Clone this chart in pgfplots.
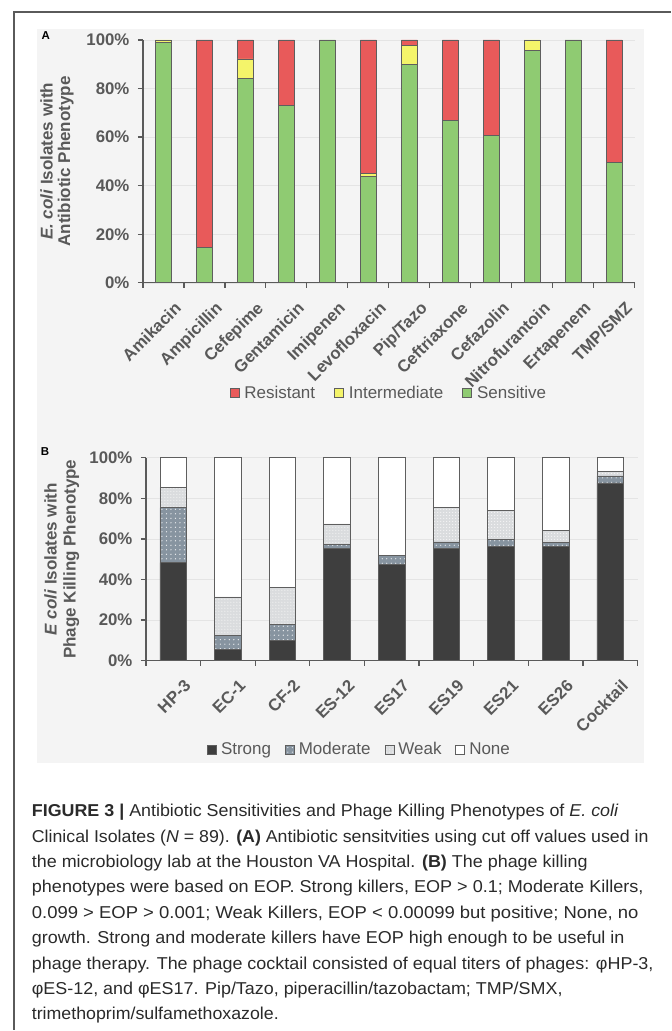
\documentclass[border=0pt]{standalone}
\usepackage{fontspec}
\setmainfont{Liberation Sans}
\usepackage{graphicx}
\usepackage{pgfplots}
\usepackage{pgfplotstable}
\pgfplotsset{compat=1.18}
\usetikzlibrary{patterns.meta}

\definecolor{labgrey}{HTML}{595959}
\definecolor{axisgrey}{HTML}{5A5A5A}
\definecolor{edgegrey}{HTML}{5E5E5E}
\definecolor{gridgrey}{HTML}{E4E4E4}
\definecolor{panelbg}{HTML}{F4F4F4}
\definecolor{sgreen}{HTML}{8FCB72}
\definecolor{iyellow}{HTML}{F4F46A}
\definecolor{rred}{HTML}{E85A5A}
\definecolor{strongc}{HTML}{3E3E3E}
\definecolor{modc}{HTML}{8794A0}
\definecolor{weakc}{HTML}{DADCDE}
\definecolor{captc}{HTML}{2A2A2A}

\newsavebox\capbox
\newcommand\fitline[2]{%
  \sbox\capbox{#2}%
  \pgfmathsetmacro\fitratio{#1/\the\wd\capbox}%
  \scalebox{\fitratio}[1]{\usebox\capbox}}

\pgfplotstableread{
x S I R
0 98.9 1.1 0
1 14.6 0 85.4
2 84.3 7.9 7.8
3 73.0 0 27.0
4 100 0 0
5 43.8 1.1 55.1
6 89.9 7.9 2.2
7 66.9 0 33.1
8 60.7 0 39.3
9 95.5 4.5 0
10 100 0 0
11 49.4 0 50.6
}\tabA

\pgfplotstableread{
x Strong Moderate Weak None
0 48.3 27.0 10.1 14.6
1 5.6 6.7 19.1 68.6
2 10.1 7.9 18.0 64.0
3 55.1 2.2 10.1 32.6
4 47.2 4.5 0 48.3
5 55.1 3.4 16.9 24.6
6 56.2 3.4 14.6 25.8
7 56.2 2.2 5.6 36.0
8 87.6 3.4 2.2 6.8
}\tabB

\pgfplotsset{
  panel/.style={
    scale only axis, clip=false,
    axis x line=bottom, axis y line=left,
    axis line style={-, draw=axisgrey, line width=1.3bp},
    ymin=0, ymax=100, ytick={0,20,...,100},
    yticklabels={0\%,20\%,40\%,60\%,80\%,100\%},
    ymajorgrids, grid style={draw=gridgrey, line width=0.6bp},
    tick align=outside, major tick length=5bp, minor tick length=5bp,
    major tick style={draw=axisgrey, line width=1.3bp},
    minor tick style={draw=axisgrey, line width=1.3bp},
    major x tick style={draw=none},
    ticklabel style={text=labgrey, font=\bfseries\fontsize{16.8bp}{18bp}\selectfont},
    yticklabel style={xshift=-5bp},
    xticklabel style={rotate=45, anchor=north east, yshift=-13bp, xshift=1.5bp},
    legend style={draw=none, fill=none, font=\fontsize{17bp}{19bp}\selectfont,
      text=labgrey, legend columns=-1},
  }
}

\begin{document}
\begin{tikzpicture}[x=1bp,y=1bp]
\path (0,0) rectangle (671,1031);
\fill[panelbg] (37,268) rectangle (644,1002);
\draw[draw=axisgrey, line width=1.2bp] (671,1019) -- (14,1019) -- (14,0);

\node[font=\bfseries\fontsize{11.5bp}{12bp}\selectfont] at (45.8,995.8) {A};
\node[font=\bfseries\fontsize{11.5bp}{12bp}\selectfont] at (45,579.5) {B};

% Panel A
\begin{axis}[ybar stacked, panel,
  legend image code/.code={\draw[#1, draw=edgegrey, line width=0.8bp] (0bp,-4.5bp) rectangle (9bp,4.5bp);},
  at={(143bp,748bp)}, anchor=south west,
  width=492bp, height=243bp,
  xmin=-0.5, xmax=11.5, bar width=0.39,
  xtick={0,...,11},
  xticklabels={Amikacin,Ampicillin,Cefepime,Gentamicin,Imipenen,Levofloxacin,Pip/Tazo,Ceftriaxone,Cefazolin,Nitrofurantoin,Ertapenem,TMP/SMZ},
  minor xtick={-0.5,0.5,...,11.5},
  ylabel={\textit{E. coli} Isolates with\\Antibiotic Phenotype},
  ylabel style={at={(axis description cs:-0.175,0.5)}, anchor=center, align=center,
    text=labgrey, font=\bfseries\fontsize{17bp}{17.5bp}\selectfont},
  reverse legend,
  legend style={at={(0.5,-0.453)}, anchor=center,
      /tikz/every even column/.append style={column sep=17bp},
      /tikz/every odd column/.append style={column sep=3bp}},
]
\addplot[fill=sgreen, draw=edgegrey, line width=0.8bp] table[x=x,y=S]{\tabA};
\addplot[fill=iyellow, draw=edgegrey, line width=0.8bp] table[x=x,y=I]{\tabA};
\addplot[fill=rred, draw=edgegrey, line width=0.8bp] table[x=x,y=R]{\tabA};
\legend{Sensitive,Intermediate,Resistant}
\end{axis}

% Panel B
\begin{axis}[ybar stacked, panel,
  legend image code/.code={\draw[#1, draw=edgegrey, line width=0.8bp] (0bp,-4.5bp) rectangle (9bp,4.5bp);},
  at={(146bp,370bp)}, anchor=south west,
  width=492bp, height=203bp,
  xmin=-0.5, xmax=8.5, bar width=0.488,
  xtick={0,...,8},
  xticklabels={HP-3,EC-1,CF-2,ES-12,ES17,ES19,ES21,ES26,Cocktail},
  minor xtick={-0.5,0.5,...,8.5},
  ylabel={\textit{E coli} Isolates with\\Phage Killing Phenotype},
  ylabel style={at={(axis description cs:-0.171,0.5)}, anchor=center, align=center,
    text=labgrey, font=\bfseries\fontsize{17bp}{19bp}\selectfont},
  legend style={at={(0.4345,-0.438)}, anchor=center,
      /tikz/every even column/.append style={column sep=12bp},
      /tikz/every odd column/.append style={column sep=2bp}},
]
\addplot[fill=strongc, draw=edgegrey, line width=0.7bp] table[x=x,y=Strong]{\tabB};
\addplot[fill=modc, draw=edgegrey, line width=0.7bp,
  postaction={pattern={Dots[distance=4.5bp,radius=0.65bp]}, pattern color=white!85!modc}] table[x=x,y=Moderate]{\tabB};
\addplot[fill=weakc, draw=edgegrey, line width=0.7bp,
  postaction={pattern={Dots[distance=3bp,radius=0.5bp]}, pattern color=white}] table[x=x,y=Weak]{\tabB};
\addplot[fill=white, draw=edgegrey, line width=0.7bp] table[x=x,y=None]{\tabB};
\legend{Strong,Moderate,Weak,None}
\end{axis}

% Caption
\begin{scope}[every node/.style={anchor=base west, inner sep=0pt, text=captc,
   font=\fontsize{17.2bp}{20bp}\selectfont}]
\node at (31.7,213.7) {\fitline{587bp}{\textbf{FIGURE 3 |} Antibiotic Sensitivities and Phage Killing Phenotypes of \textit{E. coli}}};
\node at (31.7,188.3) {\fitline{617bp}{Clinical Isolates (\textit{N} = 89). \textbf{(A)} Antibiotic sensitvities using cut off values used in}};
\node at (31.7,162.9) {\fitline{556bp}{the microbiology lab at the Houston VA Hospital. \textbf{(B)} The phage killing}};
\node at (31.7,137.5) {\fitline{612bp}{phenotypes were based on EOP. Strong killers, EOP > 0.1; Moderate Killers,}};
\node at (31.7,112.1) {\fitline{607bp}{0.099 > EOP > 0.001; Weak Killers, EOP < 0.00099 but positive; None, no}};
\node at (31.7,86.7) {\fitline{593bp}{growth. Strong and moderate killers have EOP high enough to be useful in}};
\node at (31.7,61.3) {\fitline{622bp}{phage therapy. The phage cocktail consisted of equal titers of phages: φHP-3,}};
\node at (31.7,35.9) {\fitline{531bp}{φES-12, and φES17. Pip/Tazo, piperacillin/tazobactam; TMP/SMX,}};
\node at (31.7,10.5) {\fitline{247bp}{trimethoprim/sulfamethoxazole.}};
\end{scope}
\end{tikzpicture}
\end{document}
